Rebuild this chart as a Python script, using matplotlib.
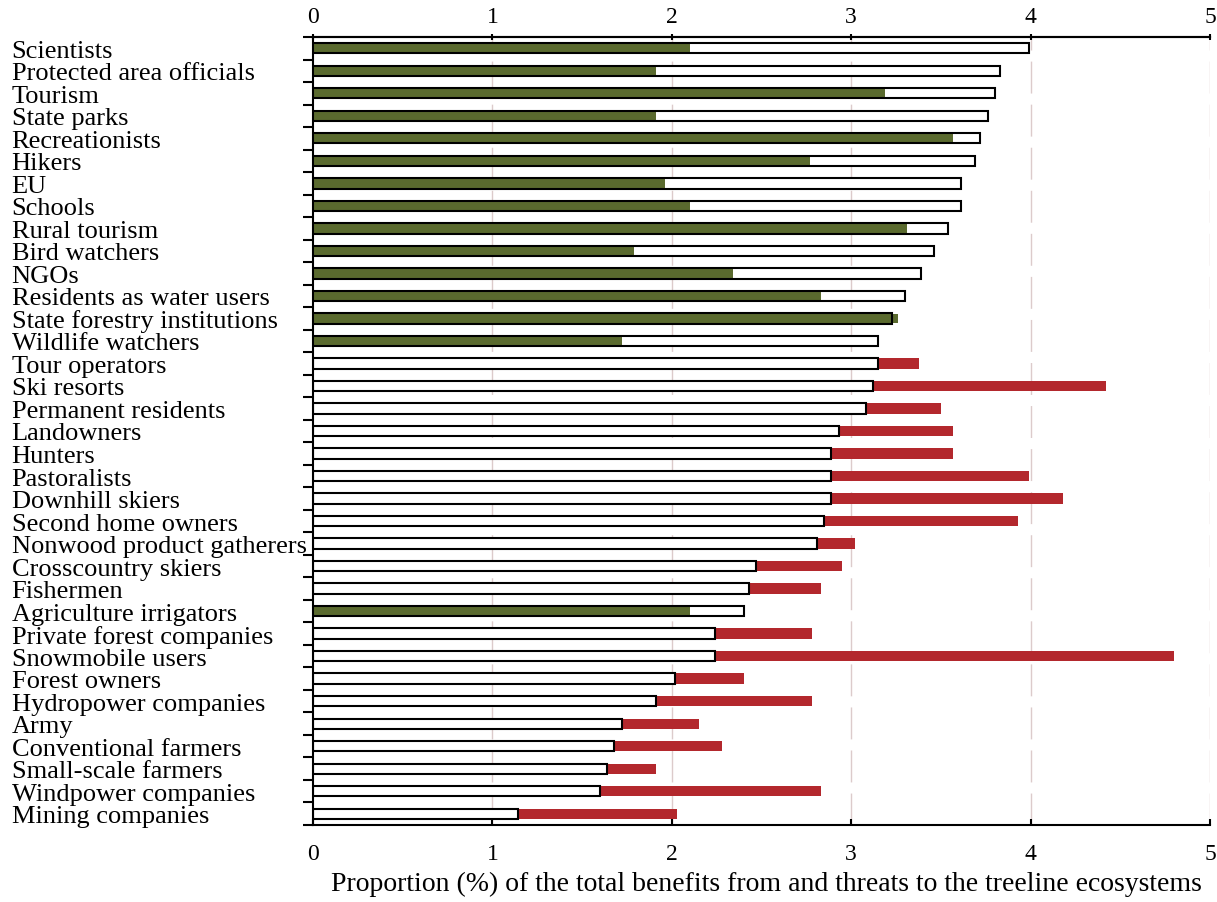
import matplotlib.pyplot as plt
import numpy as np

plt.rcParams['font.family'] = ['Liberation Serif', 'DejaVu Serif']
plt.rcParams['lines.scale_dashes'] = False

stakeholders = ['Scientists', 'Protected area officials', 'Tourism', 'State parks',
                'Recreationists', 'Hikers', 'EU', 'Schools', 'Rural tourism',
                'Bird watchers', 'NGOs', 'Residents as water users',
                'State forestry institutions', 'Wildlife watchers', 'Tour operators',
                'Ski resorts', 'Permanent residents', 'Landowners', 'Hunters',
                'Pastoralists', 'Downhill skiers', 'Second home owners',
                'Nonwood product gatherers', 'Crosscountry skiers', 'Fishermen',
                'Agriculture irrigators', 'Private forest companies',
                'Snowmobile users', 'Forest owners', 'Hydropower companies', 'Army',
                'Conventional farmers', 'Small-scale farmers', 'Windpower companies',
                'Mining companies']

benefits = [3.99, 3.83, 3.80, 3.76, 3.72, 3.69, 3.61, 3.61, 3.54, 3.46,
            3.39, 3.30, 3.23, 3.15, 3.15, 3.12, 3.08, 2.93, 2.89, 2.89,
            2.89, 2.85, 2.81, 2.47, 2.43, 2.40, 2.24, 2.24, 2.02, 1.91,
            1.72, 1.68, 1.64, 1.60, 1.14]

threats = [2.10, 1.91, 3.19, 1.91, 3.57, 2.77, 1.96, 2.10, 3.31, 1.79,
           2.34, 2.83, 3.26, 1.72, 3.38, 4.42, 3.50, 3.57, 3.57, 3.99,
           4.18, 3.93, 3.02, 2.95, 2.83, 2.10, 2.78, 4.80, 2.40, 2.78,
           2.15, 2.28, 1.91, 2.83, 2.03]

# g = mostly beneficial, r = mostly threatening
group = ['g'] * 14 + ['r'] * 11 + ['g'] + ['r'] * 9

green = '#5a6a2e'
red = '#b3282d'

fig = plt.figure(figsize=(12.17, 9.03), dpi=100)
ax = fig.add_axes([313 / 1217, 77 / 903, 897 / 1217, 788 / 903])

y = np.arange(len(stakeholders))
h = 0.46

for i in range(len(stakeholders)):
    if group[i] == 'g':
        ax.barh(y[i], threats[i], height=h - 0.06, color=green, zorder=3)
    else:
        ax.barh(y[i], threats[i], height=h, color=red, zorder=1)

ax.barh(y, benefits, height=h, color='white', zorder=2)
ax.barh(y, benefits, height=h, facecolor='none', edgecolor='black', linewidth=1.5, zorder=4)

for v in range(1, 6):
    ax.axvline(v, color='#dccbcb', linewidth=1, dashes=(23, 8), zorder=0)

ax.set_xlim(0, 5)
ax.set_ylim(len(stakeholders) - 0.5, -0.5)

ax.set_yticks(y)
ax.set_yticklabels(stakeholders, fontsize=19, ha='left')
ax.set_yticks(np.arange(len(stakeholders) + 1) - 0.5, minor=True)
ax.tick_params(axis='y', which='major', length=0, pad=217)
ax.tick_params(axis='y', which='minor', length=7, width=1.5, direction='out')

ax.set_xticks(range(0, 6))
ax.tick_params(axis='x', direction='in', length=4, width=1.5, labelsize=17, pad=13)

top = ax.secondary_xaxis('top')
top.set_xticks(range(0, 6))
top.tick_params(direction='inout', length=5, width=1.5, labelsize=17, pad=5)
top.spines['top'].set_linewidth(1.5)

for s in ['top', 'bottom', 'left']:
    ax.spines[s].set_linewidth(1.5)
ax.spines['right'].set_visible(False)

ax.set_xlabel('Proportion (%) of the total benefits from and threats to the treeline ecosystems',
              fontsize=20, labelpad=5, x=0.505)

plt.savefig('out.png')
